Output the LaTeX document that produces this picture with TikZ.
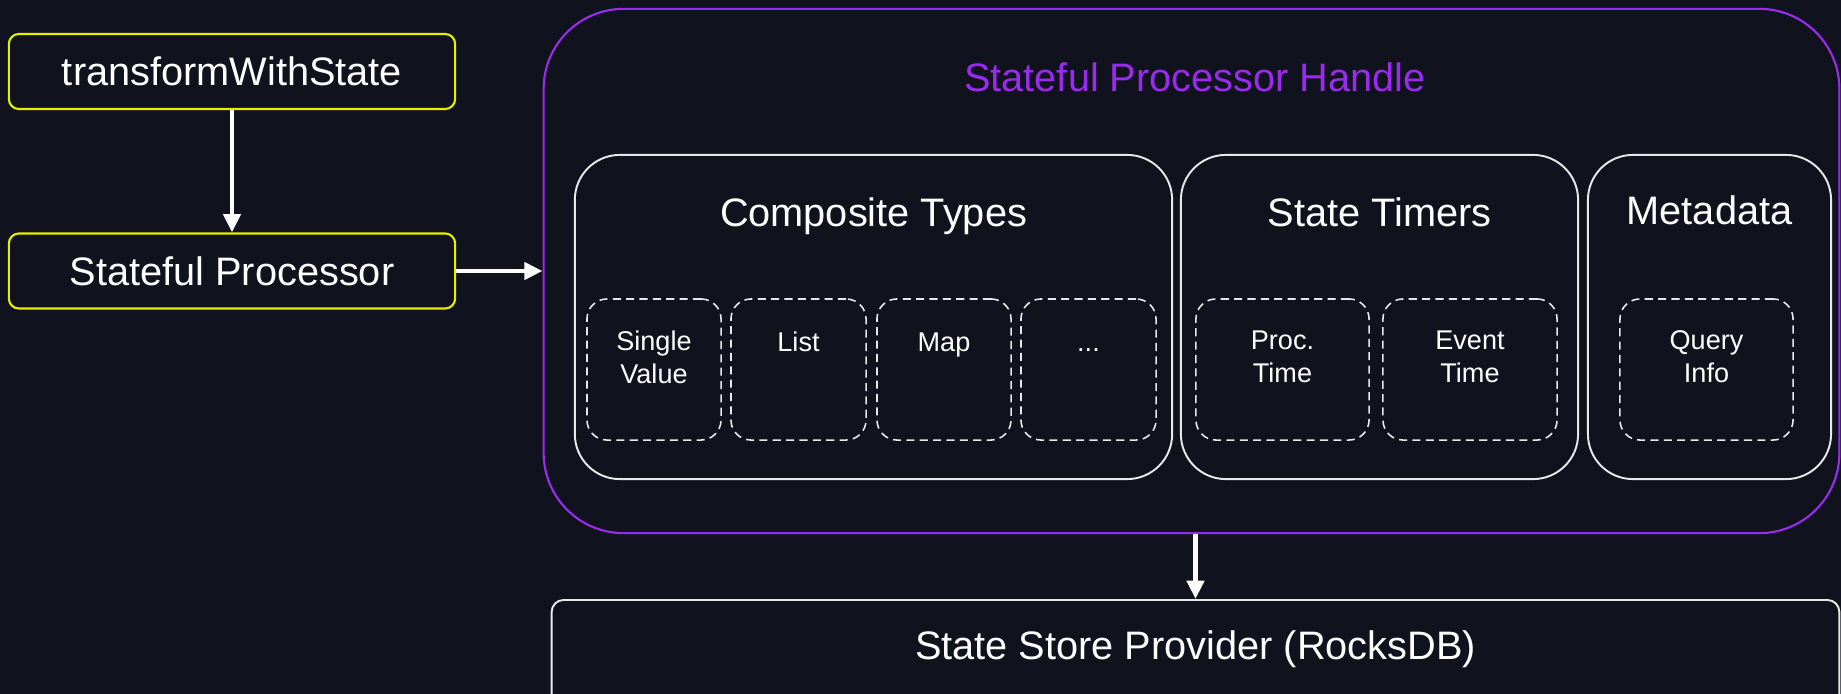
\documentclass[tikz,border=0pt]{standalone}
\usepackage{fontspec}
\setmainfont{Liberation Sans}
\usetikzlibrary{arrows.meta,calc}

\definecolor{bgnavy}{HTML}{10131E}
\definecolor{procyellow}{HTML}{E4F000}
\definecolor{handlepurple}{HTML}{9A2BEE}
\definecolor{boxwhite}{HTML}{E8E8E8}

\begin{document}
\begin{tikzpicture}[x=0.01cm, y=-0.01cm,
  bigtext/.style={font=\fontsize{11.3}{13.5}\selectfont, text=white, inner sep=0pt},
  smalltext/.style={font=\fontsize{7.7}{9.3}\selectfont, text=white, align=center, anchor=north, inner sep=0pt},
  oneline/.style={text height=5.8pt},
  opbox/.style={draw=procyellow, line width=0.6pt, rounded corners=0.1cm, minimum width=4.46cm, minimum height=0.75cm, bigtext},
  groupbox/.style={draw=boxwhite, line width=0.55pt, rounded corners=0.45cm, minimum height=3.24cm},
  itembox/.style={draw=boxwhite, line width=0.45pt, dash pattern=on 2.3pt off 1.5pt, rounded corners=0.2cm, minimum height=1.41cm},
  flow/.style={draw=white, line width=1.3pt, -{Triangle[length=5.2pt, width=4.8pt]}}
]
  % page and background
  \useasboundingbox (0,0) rectangle (1841,694);
  \clip (0,0) rectangle (1841,694);
  \fill[bgnavy] (0,0) rectangle (1841,694);

  % operators on the left
  \node[opbox] (tws) at (232,71.5) {transformWithState};
  \node[opbox] (sp) at (232,271) {Stateful Processor};

  % the handle and its title
  \node[draw=handlepurple, line width=0.6pt, rounded corners=0.8cm, minimum width=12.95cm, minimum height=5.24cm] (handle) at (1191.5,271) {};
  \node[bigtext, text=handlepurple, anchor=base] (handle-title) at ($(handle.north)+(3.5,84)$) {Stateful Processor Handle};

  % groups inside the handle
  \node[groupbox, minimum width=5.97cm] (comp) at (873.5,317) {};
  \node[groupbox, minimum width=3.97cm] (timers) at (1379.5,317) {};
  \node[groupbox, minimum width=2.43cm] (meta) at (1709.5,317) {};

  \node[bigtext, anchor=base] (comp-title) at ($(comp.north)+(0,73)$) {Composite Types};
  \node[bigtext, anchor=base] (timers-title) at ($(timers.north)+(0,73)$) {State Timers};
  \node[bigtext, anchor=base] (meta-title) at ($(meta.north)+(0,71)$) {Metadata};

  % dashed items
  \node[itembox, minimum width=1.34cm] (single) at (654,369.5) {};
  \node[itembox, minimum width=1.35cm] (list) at (798.5,369.5) {};
  \node[itembox, minimum width=1.34cm] (map) at (944,369.5) {};
  \node[itembox, minimum width=1.35cm] (more) at (1088.5,369.5) {};
  \node[itembox, minimum width=1.73cm] (proc) at (1282.5,369.5) {};
  \node[itembox, minimum width=1.74cm] (event) at (1470,369.5) {};
  \node[itembox, minimum width=1.73cm] (query) at (1706.5,369.5) {};

  % item labels, top aligned
  \node[smalltext] (single-text) at ($(single.north)+(0,32)$) {Single\\Value};
  \node[smalltext, oneline] (list-text) at ($(list.north)+(0,32)$) {List};
  \node[smalltext, oneline] (map-text) at ($(map.north)+(0,32)$) {Map};
  \node[smalltext, oneline] (more-text) at ($(more.north)+(0,32)$) {...};
  \node[smalltext] (proc-text) at ($(proc.north)+(0,32)$) {Proc.\\Time};
  \node[smalltext] (event-text) at ($(event.north)+(0,32)$) {Event\\Time};
  \node[smalltext] (query-text) at ($(query.north)+(0,32)$) {Query\\Info};

  % state store at the bottom
  \node[draw=boxwhite, line width=0.55pt, rounded corners=0.12cm, minimum width=12.87cm, minimum height=1.2cm] (store) at (1195.5,660) {};
  \node[bigtext, anchor=base] (store-text) at ($(store.north)+(0,60)$) {State Store Provider (RocksDB)};

  % connectors
  \draw[flow] (tws) -- (sp);
  \draw[flow] (sp) -- (handle);
  \draw[flow] (handle.south -| store.north) -- (store.north);
\end{tikzpicture}
\end{document}
